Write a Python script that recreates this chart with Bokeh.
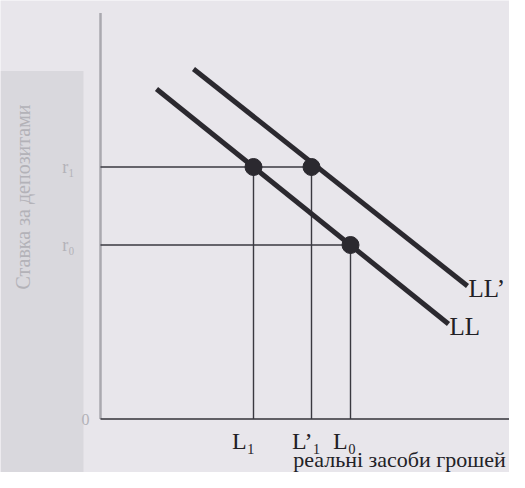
from bokeh.plotting import figure
from bokeh.models import ColumnDataSource, Range1d, BoxAnnotation
from bokeh.core.properties import value
from bokeh.embed import file_html
from bokeh.resources import INLINE
import math

# ---- data (units: real money balances on x, interest rate on y) ----
LL_money = [56, 348]
LL_rate = [330, 95]
LLp_money = [93, 367]
LLp_rate = [350, 133]

r_levels = [252, 174]                 # r1, r0
r_labels = ["r\u2081", "r\u2080"]
L_levels = [153, 211, 250]            # L1, L'1, L0
L_rates = [252, 252, 174]             # equilibrium rate at each L
L_labels = ["L\u2081", "L\u2019\u2081", "L\u2080"]
h_end = [211, 250]                    # horizontal guide ends (L'1, L0)

curve_names = ["LL\u2019", "LL"]
x_title = "реальні засоби грошей"
y_title = "Ставка за депозитами"

# ---- styling ----
BG = "#e8e6eb"
INK = "#2b292f"
FAINT = "#b3b2b8"
SERIF = value("Liberation Serif")
label_nudge = [-10, -5, -6]

p = figure(width=509, height=472, output_backend="svg", toolbar_location=None,
           x_range=Range1d(-100, 409), y_range=Range1d(-53.5, 418.5),
           min_border=0, background_fill_color=BG, border_fill_color=BG,
           outline_line_color=None)
p.axis.visible = False
p.grid.visible = False

p.add_layout(BoxAnnotation(right=-17, top=348, fill_color="#d9d8dd", fill_alpha=1.0,
                           line_color=None, level="underlay"))

# faint y axis
p.segment(x0=[0], y0=[0], x1=[0], y1=[406], line_color="#aaa9af", line_width=2.5)
# x axis
p.segment(x0=[0], y0=[0], x1=[430], y1=[0], line_color="#333238", line_width=1.6)

# guide lines
p.segment(x0=[0] * len(r_levels), y0=r_levels, x1=h_end, y1=r_levels,
          line_color="#3a3940", line_width=1.4)
p.segment(x0=L_levels, y0=[0] * len(L_levels), x1=L_levels, y1=L_rates,
          line_color="#3a3940", line_width=1.4)

# curves
p.line(LL_money, LL_rate, line_color=INK, line_width=5)
p.line(LLp_money, LLp_rate, line_color=INK, line_width=5)

# equilibrium dots
p.scatter(L_levels, L_rates, size=17, fill_color=INK, line_color=INK)

# tick-like labels under x axis
src = ColumnDataSource(dict(x=L_levels, y=[0] * 3, t=L_labels, dx=label_nudge))
p.text(x="x", y="y", text="t", x_offset="dx", y_offset=22, source=src,
       text_font=SERIF, text_font_size="24px", text_color="#222126",
       text_align="center", text_baseline="alphabetic")

# curve labels at curve ends
p.text(x=[LLp_money[-1], LL_money[-1]], y=[LLp_rate[-1], LL_rate[-1]], text=curve_names,
       x_offset=1, y_offset=2, text_font=SERIF, text_font_size="25px",
       text_color="#222126", text_align="left", text_baseline="alphabetic")

# x title
p.text(x=[L_levels[1] + 88], y=[0], text=[x_title], y_offset=40,
       text_font=SERIF, text_font_size="22px", text_color="#222126",
       text_align="center", text_baseline="alphabetic")

# faint (blurred) left-side labels
p.text(x=[0, 0], y=r_levels, text=r_labels, x_offset=-32, text_font=SERIF,
       text_font_size="18px", text_color=FAINT, text_align="center",
       text_baseline="middle")
p.text(x=[0], y=[0], text=["0"], x_offset=-15, text_font=SERIF,
       text_font_size="16px", text_color=FAINT, text_align="center",
       text_baseline="middle")
p.text(x=[0], y=[r_levels[0]], text=[y_title], x_offset=-78, y_offset=30,
       angle=math.pi / 2, text_font=SERIF, text_font_size="20px",
       text_color=FAINT, text_align="center", text_baseline="middle")

open("out.html", "w").write(file_html(p, INLINE))
